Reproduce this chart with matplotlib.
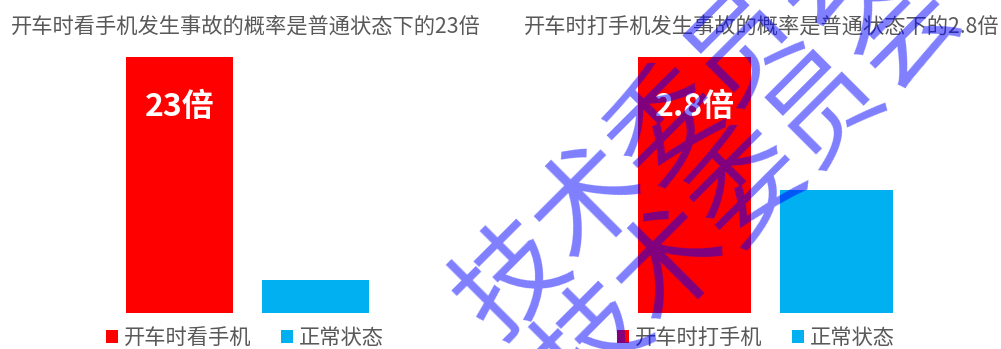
import matplotlib
matplotlib.use("Agg")
import matplotlib.pyplot as plt
from matplotlib.patches import Patch

plt.rcParams['font.family'] = ['Noto Sans CJK SC', 'DejaVu Sans']

# data
left_title = "开车时看手机发生事故的概率是普通状态下的23倍"
right_title = "开车时打手机发生事故的概率是普通状态下的2.8倍"
left_categories = ["开车时看手机", "正常状态"]
right_categories = ["开车时打手机", "正常状态"]
left_values = [23, 2.96]
right_values = [2.8, 1.35]
left_label = "23倍"
right_label = "2.8倍"
watermark = "技术委员会"

RED = "#FF0000"
BLUE = "#00B0F0"
GREY = "#595959"

W, H = 1001, 349
fig = plt.figure(figsize=(W / 100, H / 100), dpi=100)

def px_axes(left, right, top, bottom):
    return fig.add_axes([left / W, (H - bottom) / H, (right - left) / W, (bottom - top) / H])

def panel(ax, cats, vals, title, label, title_x, leg_anchor):
    ax.bar([0, 1], vals, width=0.79, color=[RED, BLUE], zorder=2)
    ax.set_xlim(-0.6, 1.6)
    ax.set_ylim(0, vals[0])
    ax.axis('off')
    ax.text(0, vals[0] * 0.805, label, ha='center', va='center', color='white',
            fontsize=23, fontweight='bold', zorder=3)
    fig.text(title_x / W, (H - 27) / H, title, ha='center', va='center',
             fontsize=15.3, color=GREY)
    handles = [Patch(facecolor=RED), Patch(facecolor=BLUE)]
    leg = fig.legend(handles, cats, loc='center', bbox_to_anchor=(leg_anchor / W, (H - 338) / H),
                     ncol=2, frameon=False, handlelength=0.55, handleheight=0.55,
                     handletextpad=0.3, columnspacing=1.4, fontsize=15.3, borderaxespad=0)
    for t in leg.get_texts():
        t.set_color(GREY)

ax1 = px_axes(179.5 - 0.6 * 136, 179.5 + 1.6 * 136, 57, 313)
panel(ax1, left_categories, left_values, left_title, left_label, 246, 245)
ax2 = px_axes(694.5 - 0.6 * 142, 694.5 + 1.6 * 142, 57, 313)
panel(ax2, right_categories, right_values, right_title, right_label, 762, 756)

# watermark overlay
for cx, cy in [(668, 124), (750, 186)]:
    fig.text(cx / W, (H - cy) / H, watermark, rotation=45, rotation_mode='anchor',
             ha='center', va='center', fontsize=79, color=(0, 0, 1, 0.5), zorder=10)

fig.savefig("out.png", dpi=100)
